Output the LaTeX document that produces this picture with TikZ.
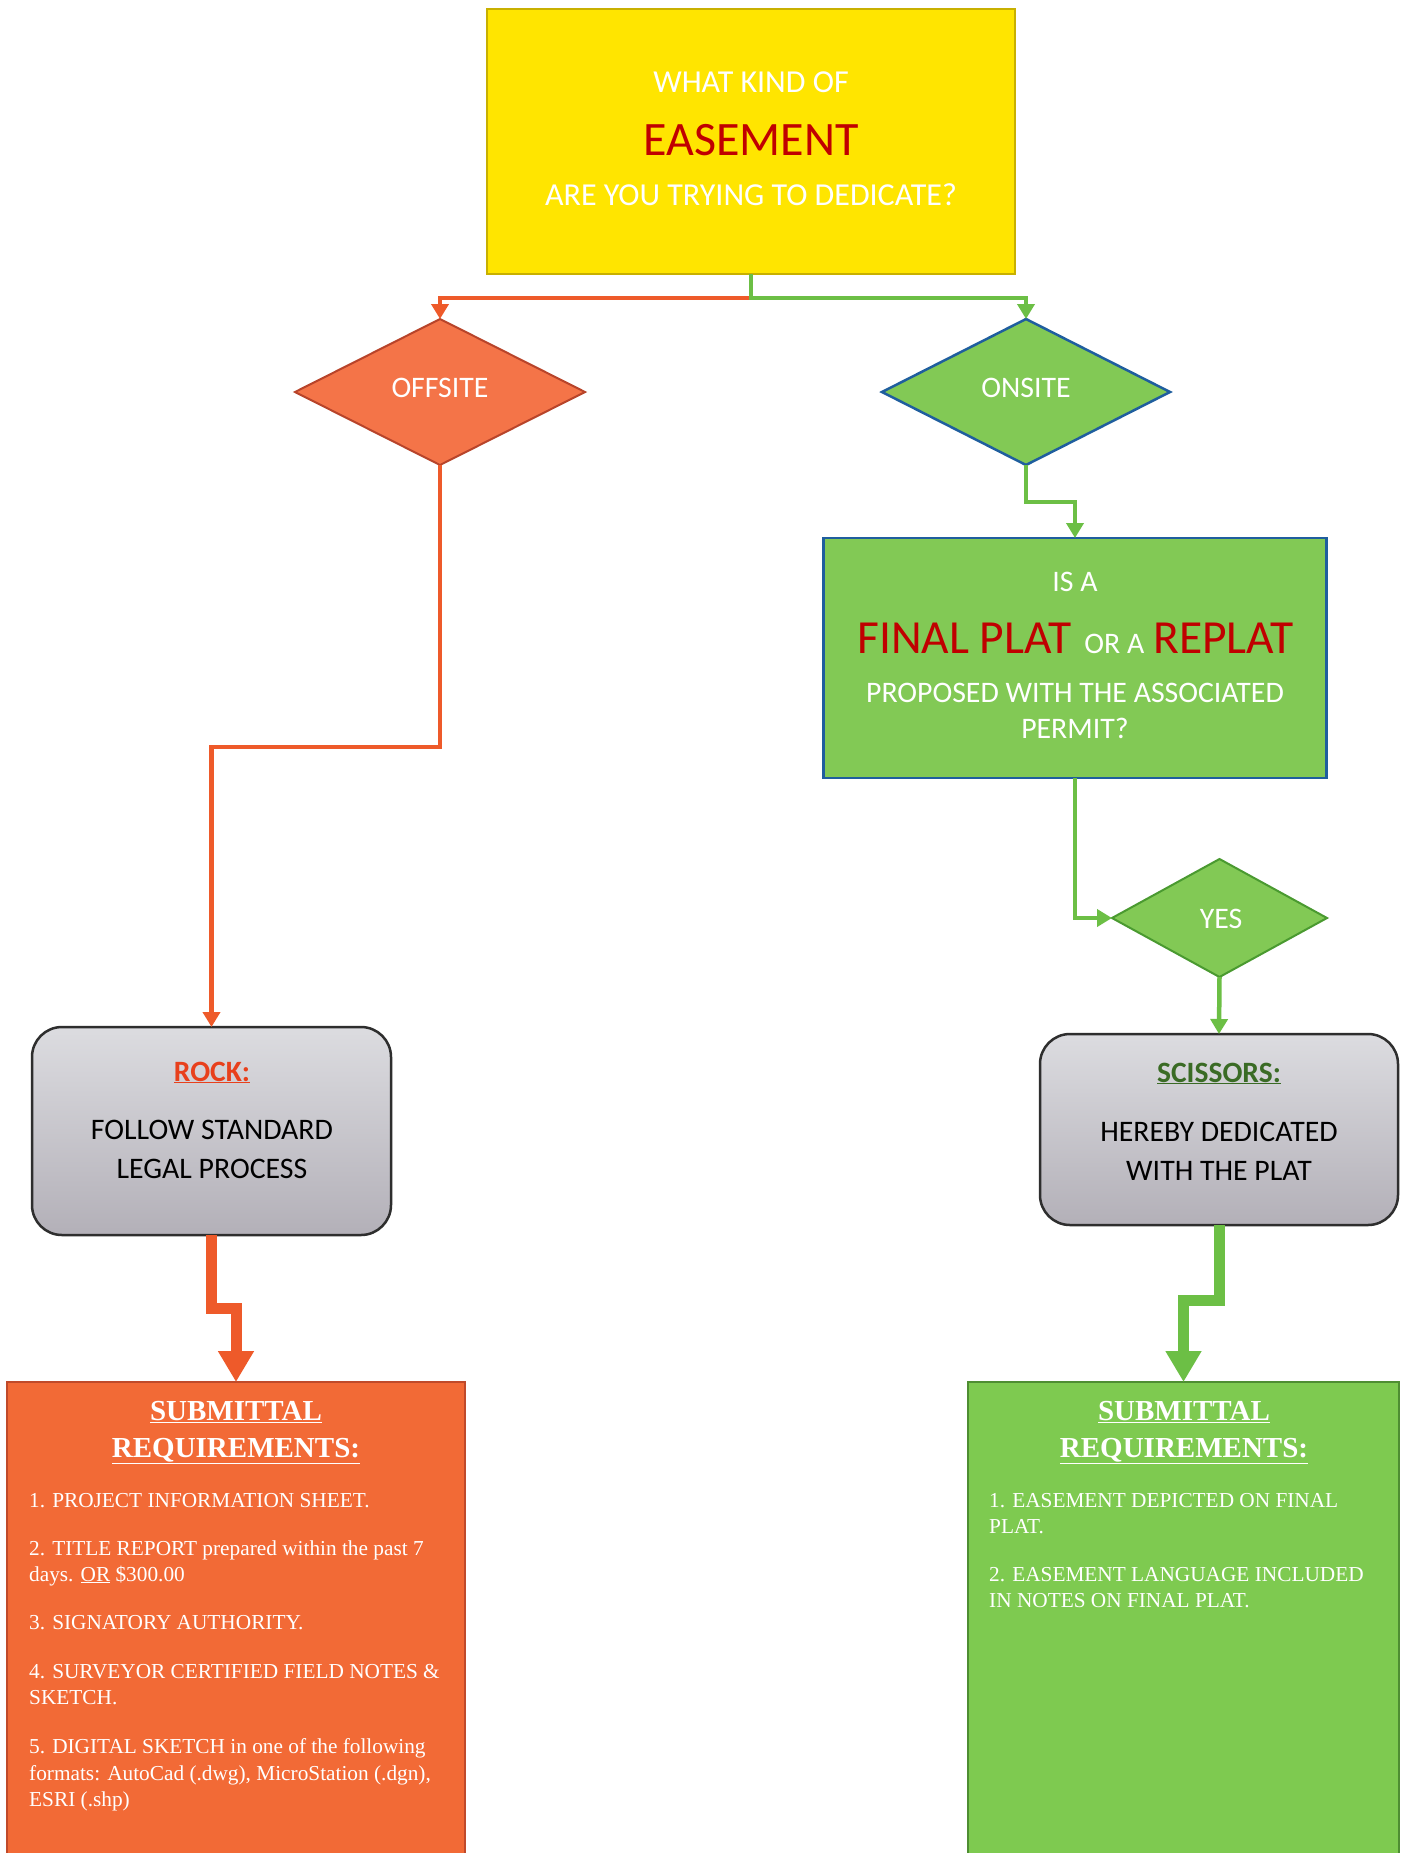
\documentclass[tikz,border=0pt]{standalone}
\usepackage{fontspec}
\setmainfont{Carlito}
\newfontfamily\tnr{Liberation Serif}
\usetikzlibrary{arrows.meta,shapes.geometric}
\definecolor{ylw}{HTML}{FFE500}
\definecolor{ylwb}{HTML}{C8B000}
\definecolor{ered}{HTML}{C00000}
\definecolor{oline}{HTML}{EE5A2A}
\definecolor{offfill}{HTML}{F47448}
\definecolor{offb}{HTML}{B8442A}
\definecolor{reqlfill}{HTML}{F26A36}
\definecolor{reqlb}{HTML}{C04A2A}
\definecolor{gfill}{HTML}{82C955}
\definecolor{gline}{HTML}{6CBF45}
\definecolor{yesb}{HTML}{4A9A30}
\definecolor{reqrfill}{HTML}{7ECA50}
\definecolor{reqrb}{HTML}{4E8E32}
\definecolor{blueb}{HTML}{1F5E9E}
\definecolor{rockred}{HTML}{E8401C}
\definecolor{scgreen}{HTML}{3A6B25}
\definecolor{greytop}{HTML}{DCDCE0}
\definecolor{greybot}{HTML}{B3B0B8}
\definecolor{greyb}{HTML}{2E2E2E}
\newcommand{\fsz}[1]{\fontsize{#1}{#1}\selectfont}
\begin{document}
\begin{tikzpicture}[x=1pt,y=-1pt,
  conn/.style={line width=4.5pt,-{Triangle[width=17pt,length=15pt]}},
  oconn/.style={conn,draw=oline},
  gconn/.style={conn,draw=gline},
  bigarrow/.style={line width=11pt,-{Triangle[width=34pt,length=31pt]}},
  box/.style={rectangle,inner sep=0pt,outer sep=0pt},
  dia/.style={diamond,inner sep=0pt,outer sep=0pt},
  greybox/.style={rectangle,rounded corners=30pt,draw=greyb,line width=2.5pt,top color=greytop,bottom color=greybot,inner sep=0pt,outer sep=0pt},
  lbl/.style={inner sep=0pt,anchor=base},
  wlbl/.style={lbl,text=white},
  item/.style={inner sep=0pt,anchor=base west,text=white,font=\tnr\fsz{21.3}},
  head/.style={inner sep=0pt,anchor=base,text=white,font=\tnr\bfseries\fsz{29}}
]
\useasboundingbox[fill=white] (0,0) rectangle (1409,1853);

% ---------- shapes ----------
\node[box,fill=ylw,draw=ylwb,line width=1.5pt,minimum width=528pt,minimum height=265pt] (q) at (751,141.5) {};
\node[dia,fill=offfill,draw=offb,line width=2pt,minimum width=290pt,minimum height=146pt] (off) at (440,392) {};
\node[dia,fill=gfill,draw=blueb,line width=2.5pt,minimum width=288pt,minimum height=146pt] (on) at (1026,392) {};
\node[box,fill=gfill,draw=blueb,line width=2.5pt,minimum width=503pt,minimum height=240pt] (plat) at (1075,658) {};
\node[dia,fill=gfill,draw=yesb,line width=2pt,minimum width=215pt,minimum height=118pt] (yes) at (1219.5,918) {};
\node[greybox,minimum width=359pt,minimum height=208pt] (rock) at (211.5,1131) {};
\node[greybox,minimum width=358pt,minimum height=191pt] (sc) at (1219,1129.5) {};
\node[box,fill=reqlfill,draw=reqlb,line width=1.5pt,minimum width=458pt,minimum height=480pt] (reql) at (236,1622) {};
\node[box,fill=reqrfill,draw=reqrb,line width=1.5pt,minimum width=431pt,minimum height=480pt] (reqr) at (1183.5,1622) {};

% ---------- connectors ----------
\coordinate (split) at (751,298);
\coordinate (offbend) at (211.5,747);
\coordinate (onbend) at (1075,502);
\coordinate (rjog) at (236,1308);
\coordinate (sjog) at (1183.5,1300);

\draw[oconn] (split) -| (off.north);
\draw[gconn] (q.south) -- (split) -| (on.north);
\draw[oconn] (off.south) |- (offbend) -- (rock.north);
\draw[gconn] (on.south) |- (onbend) -- (plat.north);
\draw[gconn] (plat.south) |- (yes.west);
\draw[gconn] (yes.south) -- (sc.north);
\draw[bigarrow,draw=oline] (rock.south) |- (rjog) -- (reql.north);
\draw[bigarrow,draw=gline] (sc.south) |- (sjog) -- (reqr.north);

% ---------- texts ----------
\node[wlbl,font=\fsz{32}] (t1) at (751,92) {WHAT KIND OF};
\node[lbl,text=ered,font=\fsz{48}] (t2) at (751,155) {EASEMENT};
\node[wlbl,font=\fsz{32}] (t3) at (751,205) {ARE YOU TRYING TO DEDICATE?};

\node[wlbl,font=\fsz{29.8}] (toff) at (440,397) {OFFSITE};
\node[wlbl,font=\fsz{29.8}] (ton) at (1026,397) {ONSITE};

\node[wlbl,font=\fsz{29.8}] (p1) at (1075,591) {IS A};
\node[lbl] (p2) at (1075.5,653) {{\fsz{47.5}\color{ered}FINAL PLAT}\hspace{13pt}{\fsz{29.8}\color{white}OR A}\hspace{9pt}{\fsz{47.5}\color{ered}REPLAT}};
\node[wlbl,font=\fsz{29.8}] (p3) at (1075,702) {PROPOSED WITH THE ASSOCIATED};
\node[wlbl,font=\fsz{29.8}] (p4) at (1075,738) {PERMIT?};

\node[wlbl,font=\fsz{29.8}] (tyes) at (1221,928) {YES};

\node[lbl,text=rockred,font=\bfseries\fsz{29.5}] (r1) at (212,1081) {\underline{ROCK:}};
\node[lbl,font=\fsz{29.8}] (r2) at (212,1139) {FOLLOW STANDARD};
\node[lbl,font=\fsz{29.8}] (r3) at (212,1178) {LEGAL PROCESS};

\node[lbl,text=scgreen,font=\bfseries\fsz{29.5}] (s1) at (1219,1082) {\underline{SCISSORS:}};
\node[lbl,font=\fsz{29.8}] (s2) at (1219,1141) {HEREBY DEDICATED};
\node[lbl,font=\fsz{29.8}] (s3) at (1219,1180) {WITH THE PLAT};

\node[head] (lh1) at (236,1420) {\underline{SUBMITTAL}};
\node[head] (lh2) at (236,1457) {\underline{REQUIREMENTS:}};
\node[item] (l1) at (29,1507) {1. PROJECT INFORMATION SHEET.};
\node[item] (l2) at (29,1555) {2. TITLE REPORT prepared within the past 7};
\node[item] (l3) at (29,1581) {days. \underline{OR} \$300.00};
\node[item] (l4) at (29,1629) {3. SIGNATORY AUTHORITY.};
\node[item] (l5) at (29,1678) {4. SURVEYOR CERTIFIED FIELD NOTES \&};
\node[item] (l6) at (29,1704) {SKETCH.};
\node[item] (l7) at (29,1753) {5. DIGITAL SKETCH in one of the following};
\node[item] (l8) at (29,1780) {formats: AutoCad (.dwg), MicroStation (.dgn),};
\node[item] (l9) at (29,1806) {ESRI (.shp)};

\node[head] (rh1) at (1184,1420) {\underline{SUBMITTAL}};
\node[head] (rh2) at (1184,1457) {\underline{REQUIREMENTS:}};
\node[item] (m1) at (989,1507) {1. EASEMENT DEPICTED ON FINAL};
\node[item] (m2) at (989,1533) {PLAT.};
\node[item] (m3) at (989,1581) {2. EASEMENT LANGUAGE INCLUDED};
\node[item] (m4) at (989,1607) {IN NOTES ON FINAL PLAT.};
\end{tikzpicture}
\end{document}
